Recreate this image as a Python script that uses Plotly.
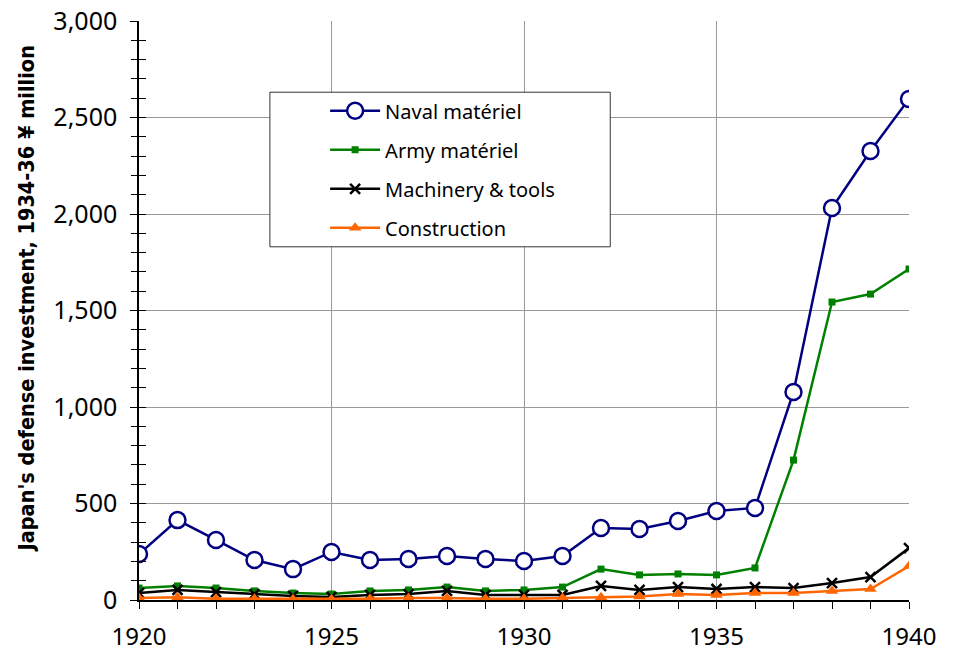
import plotly.graph_objects as go

years = list(range(1920, 1941))
naval = [238, 414, 311, 207, 160, 249, 207, 212, 228, 212, 202, 228, 373, 368, 409, 461, 477, 1078, 2031, 2326, 2596]
army = [62, 73, 62, 47, 36, 31, 47, 52, 67, 47, 52, 67, 160, 130, 135, 130, 166, 725, 1544, 1585, 1715]
machinery = [36, 52, 41, 31, 21, 16, 26, 31, 47, 26, 26, 26, 73, 52, 67, 57, 67, 62, 88, 119, 269]
construction = [10, 14, 6, 6, 4, 4, 6, 10, 10, 6, 6, 10, 14, 18, 31, 26, 36, 36, 47, 57, 176]

names = ["Naval matériel", "Army matériel", "Machinery & tools", "Construction"]
y_title = "Japan's defense investment, 1934-36 ¥ million"

tick_font = dict(family="Noto Sans", size=25, color="black")

fig = go.Figure()
fig.add_trace(go.Scatter(x=years, y=naval, name=names[0], mode="lines+markers", legendgroup="a",
                         line=dict(color="#000080", width=2.5),
                         marker=dict(symbol="circle", size=16, color="white",
                                     line=dict(color="#000080", width=2.5))))
fig.add_trace(go.Scatter(x=years, y=army, name=names[1], mode="lines+markers", legendgroup="b",
                         line=dict(color="#008000", width=2.5),
                         marker=dict(symbol="square", size=7, color="#008000")))
fig.add_trace(go.Scatter(x=years, y=machinery, name=names[2], mode="lines+markers", legendgroup="c",
                         line=dict(color="black", width=2.5),
                         marker=dict(symbol="x-thin", size=10,
                                     line=dict(color="black", width=2.5))))
fig.add_trace(go.Scatter(x=years, y=construction, name=names[3], mode="lines+markers", legendgroup="d",
                         line=dict(color="#FF6600", width=2.5),
                         marker=dict(symbol="triangle-up", size=11, color="#FF6600")))
# invisible helper trace so the inner tick axis is drawn (ticks crossing the y axis)
fig.add_trace(go.Scatter(x=years[:1], y=naval[:1], yaxis="y2", mode="lines",
                         line=dict(width=0), opacity=0, showlegend=False, hoverinfo="skip"))

# legend frame
fig.add_shape(type="rect", xref="paper", yref="paper",
              x0=0.170, x1=0.612, y0=0.610, y1=0.877,
              fillcolor="white", line=dict(color="#333333", width=1), layer="above")

fig.add_annotation(text="<b>" + y_title + "</b>", xref="paper", yref="paper",
                   x=-0.146, y=0.52, xanchor="center", yanchor="middle",
                   textangle=-90, showarrow=False,
                   font=dict(family="DejaVu Sans Condensed", size=21.5, color="black"))

fig.update_layout(
    width=946, height=645,
    margin=dict(l=131, r=45, t=13, b=53, autoexpand=False),
    paper_bgcolor="white", plot_bgcolor="white",
    showlegend=True,
    legend=dict(x=0.2417, y=0.8786, xanchor="left", yanchor="top",
                bgcolor="rgba(0,0,0,0)", borderwidth=0,
                font=dict(family="Noto Sans", size=20, color="black"),
                traceorder="grouped", tracegroupgap=10, itemwidth=50),
    xaxis=dict(range=[1920, 1940], tickvals=[1920, 1925, 1930, 1935, 1940],
               showgrid=True, gridcolor="#999999", gridwidth=1,
               showline=True, linecolor="black", linewidth=1.5,
               ticks="outside", ticklen=7, tickcolor="black", automargin=False,
               ticklabelstandoff=7, ticklabeloverflow="allow",
               minor=dict(dtick=1, ticks="outside", ticklen=7, tickcolor="black", showgrid=False),
               tickfont=dict(family="Noto Sans", size=24, color="black"), zeroline=False),
    yaxis=dict(range=[0, 3000], dtick=500, tickformat=",",
               showgrid=True, gridcolor="#999999", gridwidth=1,
               showline=True, linecolor="black", linewidth=1.5,
               ticks="outside", ticklen=7, tickcolor="black", automargin=False,
               ticklabelstandoff=8, ticklabeloverflow="allow",
               minor=dict(dtick=100, ticks="outside", ticklen=6, tickcolor="black", showgrid=False),
               tickfont=tick_font, zeroline=False),
    yaxis2=dict(range=[0, 3000], dtick=500, overlaying="y", side="left",
                showgrid=False, showline=False, zeroline=False, showticklabels=False,
                ticks="inside", ticklen=7, tickcolor="black", automargin=False,
                minor=dict(dtick=100, ticks="inside", ticklen=7, tickcolor="black", showgrid=False)),
)

fig.write_html("out.html")
